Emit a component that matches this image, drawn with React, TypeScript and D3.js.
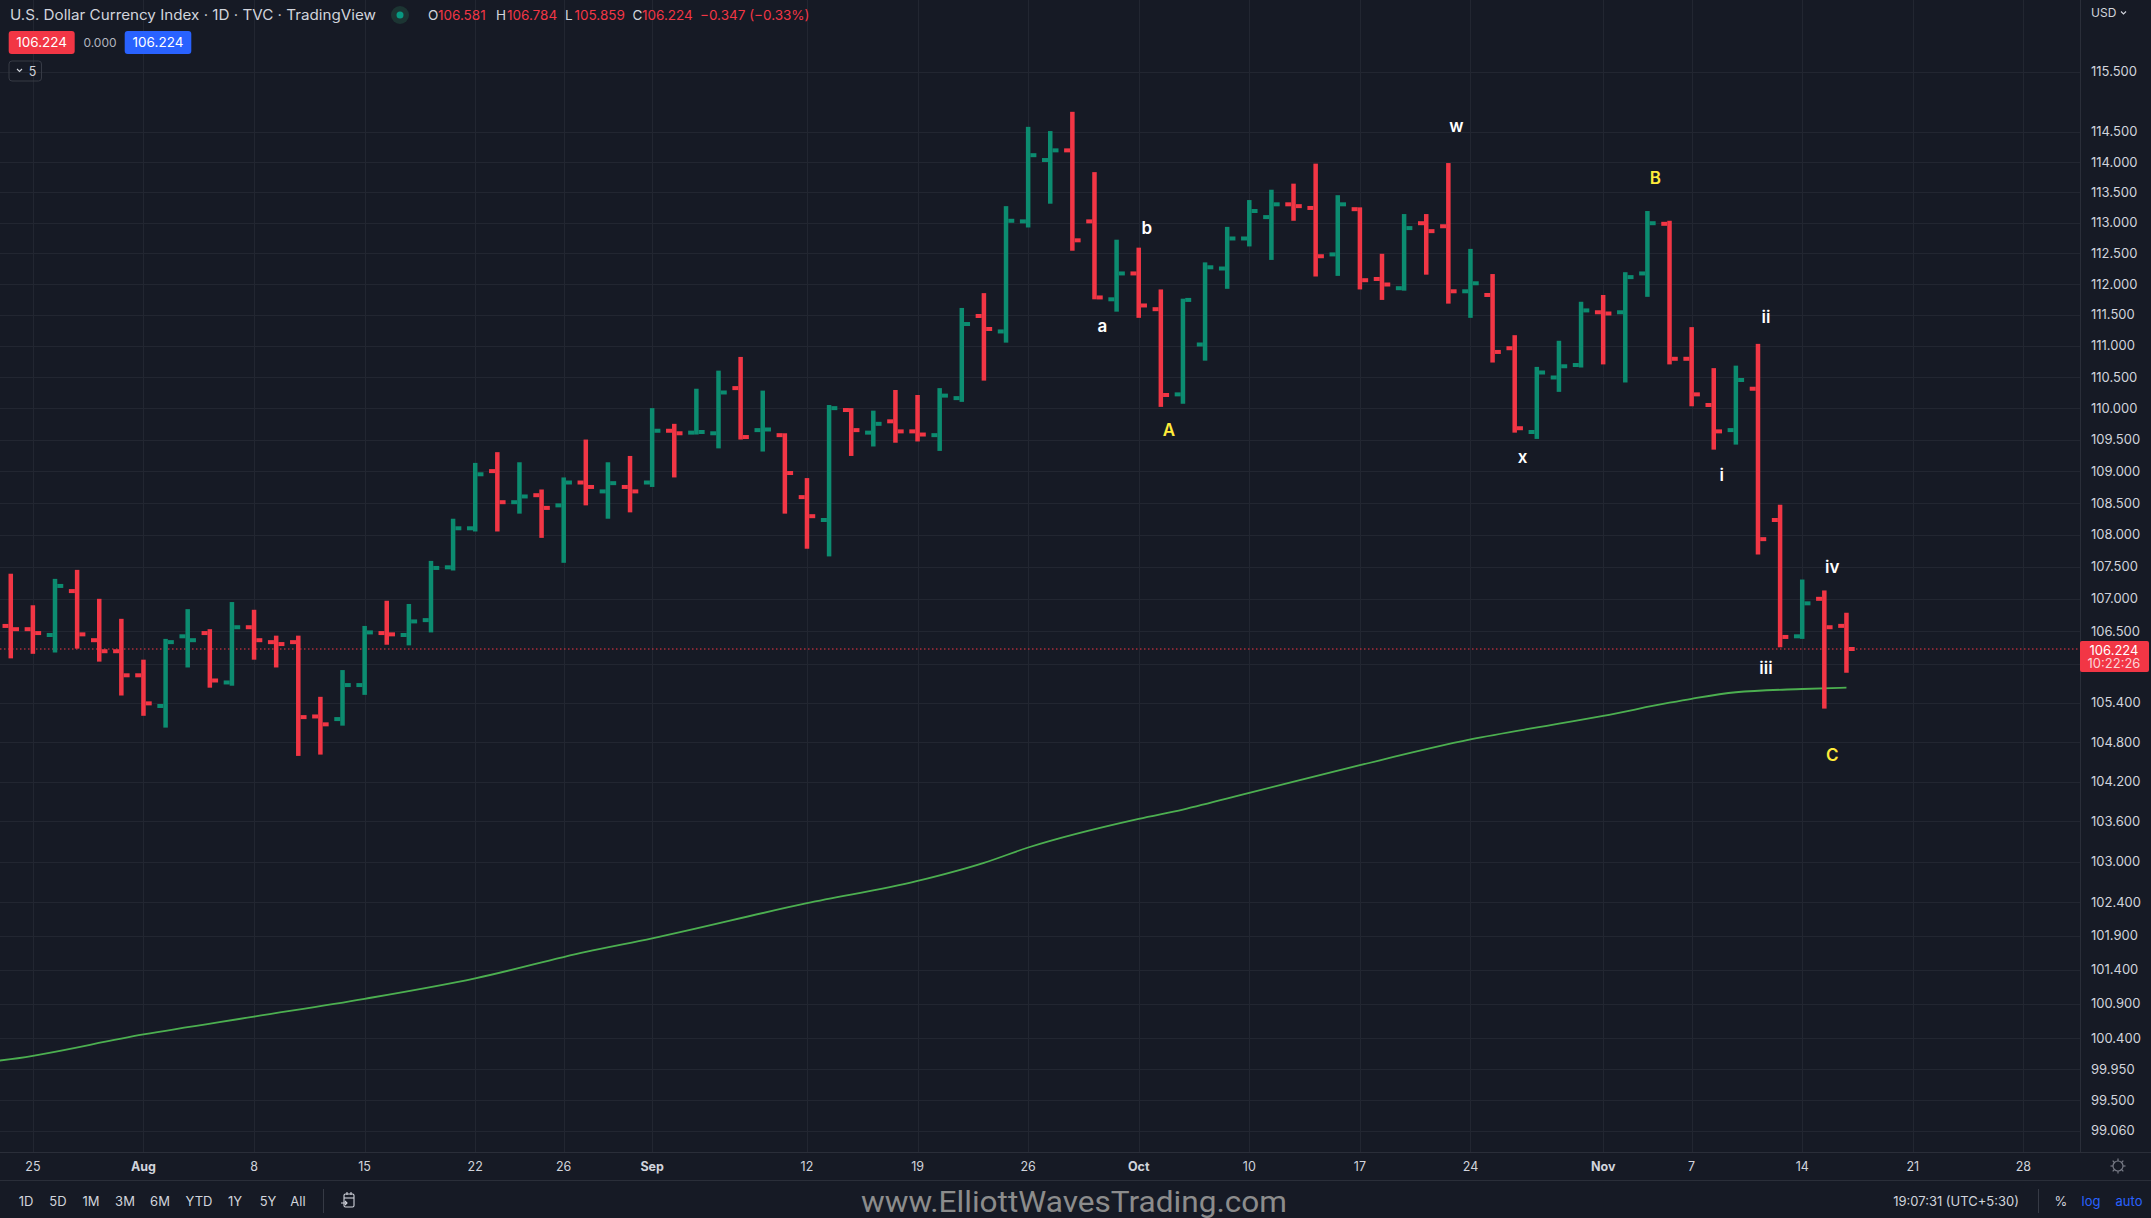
import React from "react";
import * as d3 from "d3";

// U.S. Dollar Currency Index, daily OHLC bars (TVC), Jul 22 – Nov 16 2022
const dates = [
  "2022-07-22", "2022-07-25", "2022-07-26", "2022-07-27", "2022-07-28", "2022-07-29",
  "2022-08-01", "2022-08-02", "2022-08-03", "2022-08-04", "2022-08-05",
  "2022-08-08", "2022-08-09", "2022-08-10", "2022-08-11", "2022-08-12",
  "2022-08-15", "2022-08-16", "2022-08-17", "2022-08-18", "2022-08-19",
  "2022-08-22", "2022-08-23", "2022-08-24", "2022-08-25", "2022-08-26",
  "2022-08-29", "2022-08-30", "2022-08-31", "2022-09-01", "2022-09-02",
  "2022-09-05", "2022-09-06", "2022-09-07", "2022-09-08", "2022-09-09",
  "2022-09-12", "2022-09-13", "2022-09-14", "2022-09-15", "2022-09-16",
  "2022-09-19", "2022-09-20", "2022-09-21", "2022-09-22", "2022-09-23",
  "2022-09-26", "2022-09-27", "2022-09-28", "2022-09-29", "2022-09-30",
  "2022-10-03", "2022-10-04", "2022-10-05", "2022-10-06", "2022-10-07",
  "2022-10-10", "2022-10-11", "2022-10-12", "2022-10-13", "2022-10-14",
  "2022-10-17", "2022-10-18", "2022-10-19", "2022-10-20", "2022-10-21",
  "2022-10-24", "2022-10-25", "2022-10-26", "2022-10-27", "2022-10-28",
  "2022-10-31", "2022-11-01", "2022-11-02", "2022-11-03", "2022-11-04",
  "2022-11-07", "2022-11-08", "2022-11-09", "2022-11-10", "2022-11-11",
  "2022-11-14", "2022-11-15", "2022-11-16",
];
const opens = [
  106.58, 106.53, 106.44, 107.12, 106.36, 106.19,
  105.82, 105.35, 106.42, 106.47, 105.71,
  106.56, 106.33, 106.33, 105.19, 105.15,
  105.67, 106.47, 106.44, 106.67, 107.49,
  108.1, 109.0, 108.51, 108.62, 108.46,
  108.82, 108.68, 108.75, 108.82, 109.64,
  109.61, 109.6, 110.32, 109.65, 109.57,
  108.59, 108.23, 109.97, 109.61, 109.79,
  109.63, 109.57, 110.16, 111.48, 111.23,
  113.02, 114.03, 114.19, 113.02, 111.75,
  112.17, 111.59, 110.22, 111.02, 112.25,
  112.74, 113.09, 113.3, 113.24, 112.48,
  113.22, 112.08, 111.93, 112.99, 112.94,
  111.88, 111.82, 110.96, 109.62, 110.49,
  110.69, 111.54, 111.54, 112.17, 112.98,
  110.79, 110.05, 109.65, 110.31, 108.23,
  106.42, 107.0, 106.581,
];
const highs = [
  107.39, 106.9, 107.31, 107.45, 107.0, 106.69,
  106.06, 106.38, 106.84, 106.53, 106.95,
  106.83, 106.43, 106.43, 105.49, 105.9,
  106.58, 106.97, 106.92, 107.59, 108.25,
  109.13, 109.3, 109.14, 108.71, 108.9,
  109.5, 109.14, 109.24, 110.0, 109.75,
  110.31, 110.6, 110.82, 110.28, 109.6,
  108.89, 110.05, 110.0, 109.96, 110.29,
  110.21, 110.32, 111.61, 111.85, 113.27,
  114.58, 114.51, 114.83, 113.83, 112.72,
  112.59, 111.91, 111.76, 112.35, 112.93,
  113.37, 113.54, 113.64, 113.97, 113.45,
  113.25, 112.49, 113.14, 113.14, 113.98,
  112.57, 112.16, 111.17, 110.66, 111.08,
  111.71, 111.82, 112.19, 113.19, 113.03,
  111.3, 110.64, 110.68, 111.03, 108.47,
  107.3, 107.13, 106.784,
];
const lows = [
  106.08, 106.15, 106.17, 106.23, 106.03, 105.51,
  105.2, 105.02, 105.94, 105.63, 105.66,
  106.06, 105.94, 104.59, 104.61, 105.05,
  105.52, 106.29, 106.28, 106.48, 107.44,
  108.05, 108.05, 108.33, 107.95, 107.56,
  108.46, 108.25, 108.35, 108.75, 108.9,
  109.58, 109.36, 109.5, 109.31, 108.33,
  107.78, 107.66, 109.24, 109.39, 109.45,
  109.47, 109.32, 110.1, 110.44, 111.05,
  112.92, 113.31, 112.54, 111.75, 111.55,
  111.45, 110.02, 110.07, 110.76, 111.92,
  112.61, 112.39, 113.03, 112.12, 112.13,
  111.91, 111.74, 111.89, 112.15, 111.68,
  111.45, 110.73, 109.61, 109.51, 110.26,
  110.65, 110.7, 110.41, 111.79, 110.7,
  110.03, 109.34, 109.42, 107.69, 106.25,
  106.38, 105.31, 105.859,
];
const closes = [
  106.53, 106.47, 107.2, 106.45, 106.19, 105.82,
  105.39, 106.33, 106.36, 105.74, 106.56,
  106.36, 106.3, 105.18, 105.07, 105.67,
  106.48, 106.45, 106.65, 107.48, 108.1,
  108.95, 108.51, 108.6, 108.42, 108.82,
  108.75, 108.81, 108.68, 109.64, 109.6,
  109.62, 110.25, 109.54, 109.66, 108.97,
  108.29, 110.0, 109.65, 109.75, 109.63,
  109.58, 110.2, 111.35, 111.27, 113.03,
  114.11, 114.19, 112.71, 111.78, 112.17,
  111.65, 110.21, 111.74, 112.27, 112.74,
  113.19, 113.3, 113.27, 112.45, 113.3,
  112.06, 111.99, 112.91, 112.86, 111.88,
  112.01, 110.9, 109.68, 110.57, 110.67,
  111.57, 111.52, 112.11, 112.99, 110.79,
  110.22, 109.63, 110.45, 107.93, 106.41,
  106.93, 106.56, 106.224,
];
// close of the bar before the first one shown (colours the first bar)
const prevClose = 106.92;

// moving average line, read at a few sessions
const maDates = [
  "2022-07-21", "2022-07-22", "2022-08-01", "2022-08-08", "2022-08-15", "2022-08-22",
  "2022-08-29", "2022-09-01", "2022-09-12", "2022-09-19", "2022-09-22", "2022-09-26",
  "2022-10-03", "2022-10-05", "2022-10-10", "2022-10-17", "2022-10-24", "2022-10-28",
  "2022-11-01", "2022-11-04", "2022-11-07", "2022-11-09", "2022-11-14", "2022-11-16",
];
const maValues = [
  100.05, 100.09, 100.45, 100.71, 100.97, 101.27,
  101.66, 101.86, 102.38, 102.71, 102.98, 103.21,
  103.64, 103.78, 104.03, 104.45, 104.84, 105.08,
  105.2, 105.4, 105.46, 105.56, 105.61, 105.63,
];

// grid levels of the price scale; 106.000 has a grid line but its label sits under the price tag
const priceTicks = [
  115.5, 114.5, 114, 113.5, 113, 112.5, 112, 111.5, 111, 110.5, 110, 109.5, 109,
  108.5, 108, 107.5, 107, 106.5, 106, 105.4, 104.8, 104.2, 103.6, 103, 102.4,
  101.9, 101.4, 100.9, 100.4, 99.95, 99.5, 99.06,
];
const hiddenPriceLabels = [106];

const timeTickDates = [
  "2022-07-25", "2022-08-01", "2022-08-08", "2022-08-15", "2022-08-22", "2022-08-26",
  "2022-09-01", "2022-09-12", "2022-09-19", "2022-09-26", "2022-10-03", "2022-10-10",
  "2022-10-17", "2022-10-24", "2022-11-01", "2022-11-07", "2022-11-14", "2022-11-21",
  "2022-11-28",
];
const timeTickLabels = [
  "25", "Aug", "8", "15", "22", "26", "Sep", "12", "19", "26", "Oct", "10",
  "17", "24", "Nov", "7", "14", "21", "28",
];

// Elliott wave labels
const waveTexts = ["a", "b", "A", "w", "x", "B", "i", "ii", "iii", "iv", "C"];
const waveDates = [
  "2022-09-29", "2022-10-03", "2022-10-04", "2022-10-21", "2022-10-26", "2022-11-03",
  "2022-11-08", "2022-11-10", "2022-11-10", "2022-11-15", "2022-11-15",
];
const wavePrices = [111.32, 112.91, 109.66, 114.6, 109.23, 113.73, 108.94, 111.47, 105.93, 107.49, 104.61];
const waveMajor = [false, false, true, false, false, true, false, false, false, false, true];

const rangeButtons = ["1D", "5D", "1M", "3M", "6M", "YTD", "1Y", "5Y", "All"];

const lastPrice = 106.224;

const W = 2151;
const H = 1218;
const PLOT_R = 2080;
const PLOT_B = 1152;

const BG = "#161a25";
const GRID = "#222631";
const TEXT = "#d1d4dc";
const UP = "#0c8c70";
const DOWN = "#f23645";
const FONT = "Inter, Roboto, 'Noto Sans', sans-serif";

const parse = d3.timeParse("%Y-%m-%d");
const origin = parse(dates[0]) as Date;

function tradingIndex(s: string): number {
  const d = parse(s) as Date;
  const fwd = d >= origin;
  const [a, b] = fwd ? [origin, d] : [d, origin];
  const n = d3.timeDay.range(a, b).filter((t) => t.getDay() !== 0 && t.getDay() !== 6).length;
  return fwd ? n : -n;
}

export default function App() {
  const x = d3.scaleLinear().domain([-0.487, 93.56]).range([0, PLOT_R]);
  const y = d3.scaleLog().domain([99.06, 115.5]).range([1130.5, 71.7]);
  const fmt = d3.format(".3f");

  const bars = dates.map((d, i) => ({
    cx: x(tradingIndex(d)),
    o: opens[i],
    h: highs[i],
    l: lows[i],
    c: closes[i],
    up: closes[i] >= (i === 0 ? prevClose : closes[i - 1]),
  }));

  const maLine = d3
    .line<number>()
    .x((_, i) => x(tradingIndex(maDates[i])))
    .y((v) => y(v))
    .curve(d3.curveMonotoneX);

  const stem = 4.5;
  const tickW = 6;
  const tickH = 4;
  const yLast = y(lastPrice);

  // toolbar button centres (buttons have different widths)
  const btnCx = [26, 58, 91, 125, 160, 199, 235, 268, 298];

  return (
    <svg
      width={W}
      height={H}
      style={{ position: "absolute", left: 0, top: 0, display: "block", background: BG }}
      fontFamily={FONT}
    >
      <defs>
        <clipPath id="plot">
          <rect x={0} y={0} width={PLOT_R} height={PLOT_B} />
        </clipPath>
      </defs>
      <rect width={W} height={H} fill={BG} />

      {/* grid */}
      <g stroke={GRID} strokeWidth={1}>
        {priceTicks.map((p) => (
          <line key={p} x1={0} x2={PLOT_R} y1={Math.round(y(p)) + 0.5} y2={Math.round(y(p)) + 0.5} />
        ))}
        {timeTickDates.map((d) => {
          const xx = Math.round(x(tradingIndex(d))) + 0.5;
          return <line key={d} x1={xx} x2={xx} y1={0} y2={PLOT_B} />;
        })}
      </g>

      <g clipPath="url(#plot)">
        {/* moving average */}
        <path d={maLine(maValues) || ""} fill="none" stroke="#4caf50" strokeWidth={1.8} />

        {/* last price line */}
        <line
          x1={0}
          x2={PLOT_R}
          y1={yLast}
          y2={yLast}
          stroke={DOWN}
          strokeWidth={1}
          strokeDasharray="1.5 2.5"
        />

        {/* OHLC bars */}
        {bars.map((b, i) => {
          const col = b.up ? UP : DOWN;
          return (
            <g key={i} fill={col}>
              <rect x={b.cx - stem / 2} y={y(b.h)} width={stem} height={Math.max(1, y(b.l) - y(b.h))} />
              <rect x={b.cx - stem / 2 - tickW} y={y(b.o) - tickH / 2} width={tickW} height={tickH} />
              <rect x={b.cx + stem / 2} y={y(b.c) - tickH / 2} width={tickW} height={tickH} />
            </g>
          );
        })}

        {/* wave labels */}
        {waveTexts.map((t, i) => (
          <text
            key={i}
            x={x(tradingIndex(waveDates[i])) + 8}
            y={y(wavePrices[i])}
            dy="0.36em"
            textAnchor="middle"
            fontSize={17}
            fontWeight={600}
            fill={waveMajor[i] ? "#ffeb3b" : "#ffffff"}
          >
            {t}
          </text>
        ))}
      </g>

      {/* axes borders */}
      <line x1={PLOT_R + 0.5} x2={PLOT_R + 0.5} y1={0} y2={PLOT_B} stroke="#2a2e39" />
      <line x1={0} x2={W} y1={PLOT_B + 0.5} y2={PLOT_B + 0.5} stroke="#2a2e39" />
      <line x1={0} x2={W} y1={1180.5} y2={1180.5} stroke="#2a2e39" />

      {/* price axis */}
      <g fontSize={13} fill={TEXT}>
        {priceTicks
          .filter((p) => !hiddenPriceLabels.includes(p))
          .map((p) => (
            <text key={p} x={2091} y={y(p)} dy="0.36em">
              {fmt(p)}
            </text>
          ))}
        <text x={2091} y={13} dy="0.36em" fontSize={12}>
          USD
        </text>
        <path d="M2121 11.5 l2.5 2.5 l2.5 -2.5" fill="none" stroke={TEXT} strokeWidth={1.1} />
      </g>
      <rect x={2080} y={yLast - 8} width={69} height={31} rx={2} fill={DOWN} />
      <text x={2114} y={yLast + 1.5} dy="0.36em" textAnchor="middle" fontSize={13} fill="#ffffff">
        {fmt(lastPrice)}
      </text>
      <text x={2114} y={yLast + 14.5} dy="0.36em" textAnchor="middle" fontSize={13} fill="#fcd4d8">
        10:22:26
      </text>

      {/* time axis */}
      <g fontSize={12.5} fill={TEXT} textAnchor="middle">
        {timeTickDates.map((d, i) => {
          const lab = timeTickLabels[i];
          const month = /[A-Za-z]/.test(lab);
          return (
            <text key={d} x={x(tradingIndex(d))} y={1166} dy="0.36em" fontWeight={month ? 700 : 400}>
              {lab}
            </text>
          );
        })}
      </g>
      {/* settings icon on the time axis */}
      <g transform="translate(2118,1166)" stroke="#787b86" strokeWidth={1.2} fill="none">
        <circle r={5} />
        {d3.range(8).map((k) => {
          const a = (k * Math.PI) / 4;
          return (
            <line key={k} x1={Math.cos(a) * 5} y1={Math.sin(a) * 5} x2={Math.cos(a) * 7.5} y2={Math.sin(a) * 7.5} />
          );
        })}
      </g>

      {/* bottom toolbar */}
      <g fontSize={13} fill={TEXT} textAnchor="middle">
        {rangeButtons.map((t, i) => (
          <text key={t} x={btnCx[i]} y={1201} dy="0.36em">
            {t}
          </text>
        ))}
      </g>
      <line x1={323.5} x2={323.5} y1={1189} y2={1213} stroke="#363a45" />
      <g transform="translate(342,1193)" stroke={TEXT} strokeWidth={1.1} fill="none">
        <rect x={2} y={1} width={10} height={13} rx={1.5} />
        <line x1={2} x2={12} y1={5} y2={5} />
        <line x1={5} x2={5} y1={-1} y2={2} />
        <line x1={9} x2={9} y1={-1} y2={2} />
        <path d="M-1 10 h6 M3 8 l2 2 l-2 2" />
      </g>
      <text
        x={1074}
        y={1201}
        dy="0.36em"
        textAnchor="middle"
        fontFamily="Roboto, 'Liberation Sans', sans-serif"
        fontSize={30}
        fill="#8c8c8c"
        textLength={426}
        lengthAdjust="spacingAndGlyphs"
      >
        www.ElliottWavesTrading.com
      </text>
      <text x={2019} y={1201} dy="0.36em" textAnchor="end" fontSize={13} fill={TEXT}>
        19:07:31 (UTC+5:30)
      </text>
      <line x1={2038.5} x2={2038.5} y1={1189} y2={1213} stroke="#363a45" />
      <text x={2061} y={1201} dy="0.36em" textAnchor="middle" fontSize={13} fill={TEXT}>
        %
      </text>
      <text x={2091} y={1201} dy="0.36em" textAnchor="middle" fontSize={13} fill="#2962ff">
        log
      </text>
      <text x={2129} y={1201} dy="0.36em" textAnchor="middle" fontSize={13} fill="#2962ff">
        auto
      </text>

      {/* legend header */}
      <text x={10} y={15} dy="0.36em" fontSize={14} fill={TEXT} textLength={366} lengthAdjust="spacingAndGlyphs">
        U.S. Dollar Currency Index · 1D · TVC · TradingView
      </text>
      <circle cx={400} cy={15} r={9} fill="#1c3533" />
      <circle cx={400} cy={15} r={3.5} fill="#089981" />
      <g fontSize={13.5}>
        <text y={15} dy="0.36em">
          <tspan x={428} fill={TEXT}>O</tspan>
          <tspan x={438} fill={DOWN}>{fmt(opens[opens.length - 1])}</tspan>
          <tspan x={496} fill={TEXT}>H</tspan>
          <tspan x={507} fill={DOWN}>{fmt(highs[highs.length - 1])}</tspan>
          <tspan x={565} fill={TEXT}>L</tspan>
          <tspan x={574.5} fill={DOWN}>{fmt(lows[lows.length - 1])}</tspan>
          <tspan x={632.5} fill={TEXT}>C</tspan>
          <tspan x={642} fill={DOWN}>{fmt(lastPrice)}</tspan>
          <tspan x={700} fill={DOWN}>−0.347 (−0.33%)</tspan>
        </text>
      </g>
      <rect x={8.7} y={31} width={66} height={23} rx={3} fill={DOWN} />
      <text x={41.7} y={42.5} dy="0.36em" textAnchor="middle" fontSize={13.5} fill="#ffffff">
        {fmt(lastPrice)}
      </text>
      <text x={100} y={42.5} dy="0.36em" textAnchor="middle" fontSize={12} fill="#b2b5be">
        0.000
      </text>
      <rect x={124.7} y={31} width={66.6} height={23} rx={3} fill="#2962ff" />
      <text x={158} y={42.5} dy="0.36em" textAnchor="middle" fontSize={13.5} fill="#ffffff">
        {fmt(lastPrice)}
      </text>
      <rect x={9} y={61} width={32.5} height={20} rx={3} fill="none" stroke="#363a45" />
      <path d="M17 69 l2.5 2.5 l2.5 -2.5" fill="none" stroke={TEXT} strokeWidth={1.1} />
      <text x={32.5} y={71} dy="0.36em" textAnchor="middle" fontSize={12.5} fill={TEXT}>
        5
      </text>
    </svg>
  );
}
